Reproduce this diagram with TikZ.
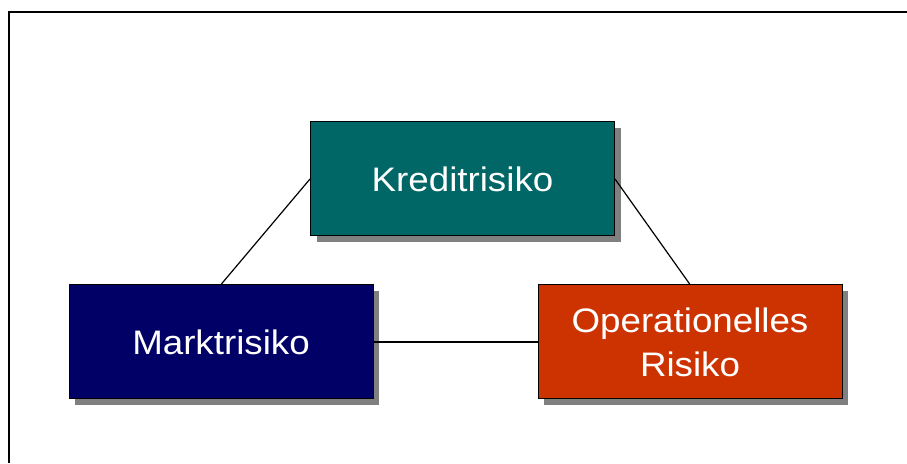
\documentclass[tikz,border=0pt]{standalone}
\usepackage{fontspec}
\setmainfont{Liberation Sans}[FakeStretch=1.08]
\usetikzlibrary{shadows}
\definecolor{kredit}{HTML}{006666}
\definecolor{markt}{HTML}{000066}
\definecolor{oper}{HTML}{CC3300}
\definecolor{shadowgray}{HTML}{808080}
\begin{document}
\begin{tikzpicture}[x=1pt,y=1pt,
  riskbox/.style={draw=black, line width=1pt, minimum width=304pt, minimum height=114pt,
    inner sep=0pt, text=white, align=center, font=\fontsize{34}{44}\selectfont,
    drop shadow={shadow xshift=6pt, shadow yshift=-6pt, fill=shadowgray, opacity=1, draw=none}},
  link/.style={draw=black, line width=1.2pt}]
\useasboundingbox (0,0) rectangle (907,463);
\fill[white] (0,0) rectangle (907,463);
\draw[line width=2pt] (9,0) -- (9,451) -- (910,451);
\node[riskbox, fill=kredit] (k) at (462.5,284) {Kreditrisiko};
\node[riskbox, fill=markt] (m) at (221,121) {Marktrisiko};
\node[riskbox, fill=oper] (o) at (690,121) {Operationelles\\Risiko};
\draw[link] (k.west) -- (m.north);
\draw[link] (k.east) -- (o.north);
\draw[link] (m.east) -- (o.west);
\end{tikzpicture}
\end{document}
